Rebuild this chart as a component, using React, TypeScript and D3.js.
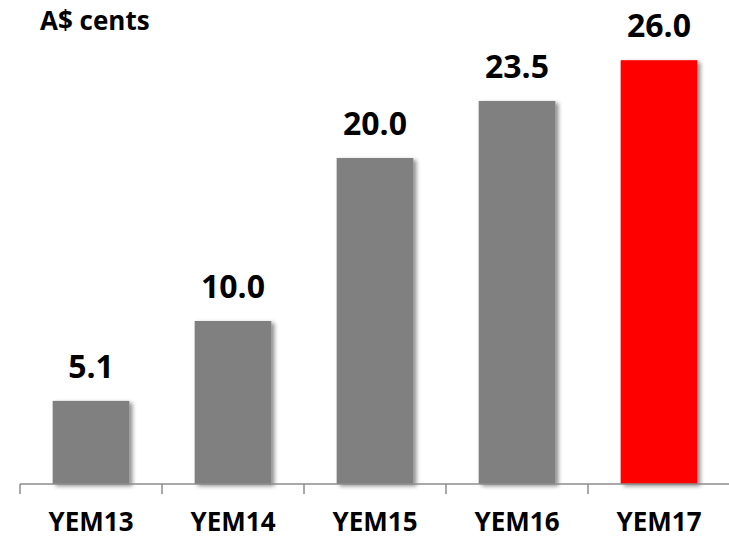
import React from 'react';
import * as d3 from 'd3';

const categories = ['YEM13', 'YEM14', 'YEM15', 'YEM16', 'YEM17'];
const values = [5.1, 10.0, 20.0, 23.5, 26.0];
const barColors = ['#808080', '#808080', '#808080', '#808080', '#ff0000'];
const unitLabel = 'A$ cents';

const W = 729;
const H = 540;
const baseY = 484;
const font = '"Open Sans", "Liberation Sans", sans-serif';

export default function App() {
  const x = d3.scaleBand<string>()
    .domain(categories)
    .range([20, 730])
    .paddingInner(0.46)
    .paddingOuter(0.23);

  const y = d3.scaleLinear()
    .domain([0, 28])
    .range([baseY, baseY - 28 * 16.3]);

  // tick marks sit between categories
  const step = x.step();
  const tickXs = d3.range(categories.length).map((i) => 20 + i * step);

  return (
    <svg width={W} height={H} style={{ position: 'absolute', left: 0, top: 0, background: '#fff' }}>
      <defs>
        <filter id="shadow" x="-20%" y="-10%" width="150%" height="130%">
          <feDropShadow dx="3" dy="2" stdDeviation="2.2" floodColor="#000" floodOpacity="0.45" />
        </filter>
      </defs>

      <text x={40} y={30} fontFamily={font} fontWeight="bold" fontSize={26} fill="#000">
        {unitLabel}
      </text>

      {categories.map((c, i) => (
        <rect
          key={c}
          x={x(c)}
          y={y(values[i])}
          width={x.bandwidth()}
          height={baseY - y(values[i])}
          fill={barColors[i]}
          filter="url(#shadow)"
        />
      ))}

      {categories.map((c, i) => (
        <text
          key={c + '-v'}
          x={(x(c) ?? 0) + x.bandwidth() / 2}
          y={y(values[i]) - 23}
          textAnchor="middle"
          fontFamily={font}
          fontWeight="bold"
          fontSize={32}
          fill="#000"
        >
          {values[i].toFixed(1)}
        </text>
      ))}

      <line x1={20} x2={W} y1={baseY} y2={baseY} stroke="#8c8c8c" strokeWidth={1.5} />
      {tickXs.map((tx) => (
        <line key={tx} x1={tx} x2={tx} y1={baseY} y2={baseY + 10} stroke="#8c8c8c" strokeWidth={1.5} />
      ))}

      {categories.map((c) => (
        <text
          key={c + '-l'}
          x={(x(c) ?? 0) + x.bandwidth() / 2}
          y={531}
          textAnchor="middle"
          fontFamily={font}
          fontWeight="bold"
          fontSize={26}
          fill="#000"
        >
          {c}
        </text>
      ))}
    </svg>
  );
}
